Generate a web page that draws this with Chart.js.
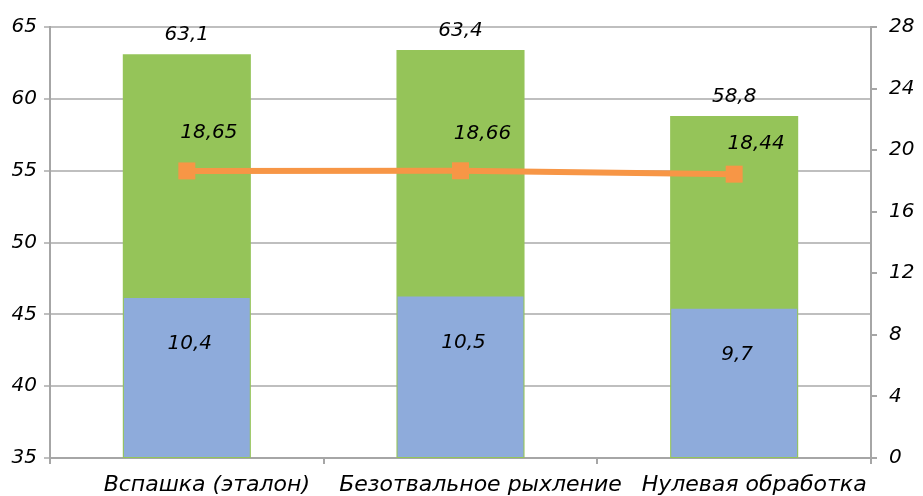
<!DOCTYPE html>
<html>
<head>
<meta charset="utf-8">
<script src="https://cdn.jsdelivr.net/npm/chart.js@4"></script>
<style>
  html, body { margin: 0; padding: 0; background: #fff; }
  #wrap { width: 923px; height: 496px; }
</style>
</head>
<body>
<div id="wrap"><canvas id="chart"></canvas></div>
<script>
// Chart data
const categories = ["Вспашка (эталон)", "Безотвальное рыхление", "Нулевая обработка"];
const totalValues = [63.1, 63.4, 58.8];     // green bars, left axis
const lowerValues = [10.4, 10.5, 9.7];      // blue bars, right axis
const lineValues = [18.65, 18.66, 18.44];   // orange line, right axis
const leftTicks = [35, 40, 45, 50, 55, 60, 65];
const rightTicks = [0, 4, 8, 12, 16, 20, 24, 28];

const fontFamily = "'DejaVu Sans', sans-serif";
const labelFont = "italic 20px " + fontFamily;
const fmt = (v) => String(v).replace(".", ",");

// Draw value labels on the bars and line
const valueLabels = {
  id: "valueLabels",
  afterDatasetsDraw(chart) {
    const ctx = chart.ctx;
    ctx.save();
    ctx.font = labelFont;
    ctx.fillStyle = "#000";
    ctx.textAlign = "center";
    ctx.textBaseline = "middle";

    chart.getDatasetMeta(2).data.forEach((bar, i) => {
      ctx.fillText(fmt(totalValues[i]), bar.x, bar.y - 19);
    });
    chart.getDatasetMeta(1).data.forEach((bar, i) => {
      ctx.fillText(fmt(lowerValues[i]), bar.x + 3, bar.y + 46);
    });
    const lineOffsets = [-38, -37, -30];
    chart.getDatasetMeta(0).data.forEach((pt, i) => {
      ctx.fillText(fmt(lineValues[i]), pt.x + 22, pt.y + lineOffsets[i]);
    });
    ctx.restore();
  },
};

document.addEventListener("DOMContentLoaded", function () {
  Chart.defaults.font.family = fontFamily;
  Chart.defaults.font.style = "italic";
  Chart.defaults.font.size = 20;
  Chart.defaults.color = "#000";

  new Chart(document.getElementById("chart"), {
    type: "bar",
    data: {
      labels: categories,
      datasets: [
        {
          type: "line",
          data: lineValues,
          yAxisID: "y1",
          borderColor: "#f79646",
          backgroundColor: "#f79646",
          borderWidth: 6,
          pointStyle: "rect",
          pointRadius: 12,
          pointBorderWidth: 0,
          tension: 0,
        },
        {
          data: lowerValues,
          yAxisID: "y1",
          backgroundColor: "#8eabdb",
          grouped: false,
          categoryPercentage: 1,
          barPercentage: 0.46,
        },
        {
          data: totalValues,
          yAxisID: "y",
          backgroundColor: "#95c459",
          grouped: false,
          categoryPercentage: 1,
          barPercentage: 0.468,
        },
      ],
    },
    options: {
      responsive: true,
      maintainAspectRatio: false,
      animation: false,
      layout: { padding: { top: 27, right: 0, left: 0, bottom: 0 } },
      plugins: {
        legend: { display: false },
        tooltip: { enabled: false },
      },
      scales: {
        x: {
          grid: {
            drawOnChartArea: false,
            color: "#a6a6a6",
            lineWidth: 2,
            tickLength: 6,
          },
          border: { color: "#a6a6a6", width: 2 },
          ticks: {
            padding: 8,
            labelOffset: 20,
            maxRotation: 0,
            autoSkip: false,
            font: { size: 22 },
          },
          afterFit: (s) => { s.height = 38; },
        },
        y: {
          position: "left",
          min: 35,
          max: 65,
          afterBuildTicks: (s) => { s.ticks = leftTicks.map((v) => ({ value: v })); },
          grid: { color: "#bfbfbf", lineWidth: 2, tickLength: 6, tickColor: "#bfbfbf" },
          border: { color: "#a6a6a6", width: 2 },
          ticks: { padding: 7 },
          afterFit: (s) => { s.width = 50; },
        },
        y1: {
          position: "right",
          min: 0,
          max: 28,
          afterBuildTicks: (s) => { s.ticks = rightTicks.map((v) => ({ value: v })); },
          grid: { drawOnChartArea: false, color: "#a6a6a6", lineWidth: 2, tickLength: 6 },
          border: { color: "#a6a6a6", width: 2 },
          ticks: { padding: 12 },
          afterFit: (s) => { s.width = 52; },
        },
      },
    },
    plugins: [valueLabels],
  });
});
</script>
</body>
</html>
